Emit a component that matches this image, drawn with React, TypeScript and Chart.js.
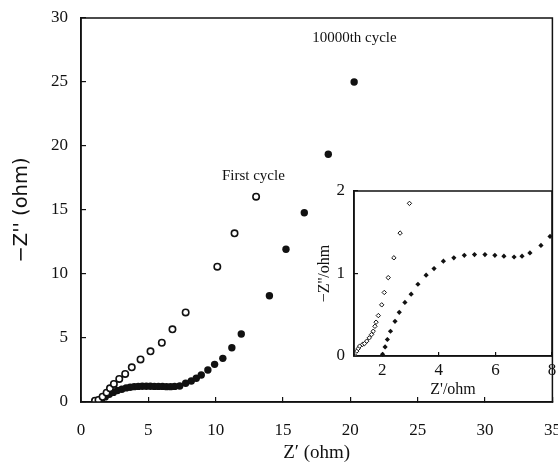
import React, { useEffect, useRef } from "react";
import { Chart, registerables } from "chart.js";

Chart.register(...registerables);

// ---- Main plot data (Nyquist) ----
const firstCycleX = [1.04, 1.3, 1.6, 1.9, 2.15, 2.44, 2.84, 3.28, 3.77, 4.42, 5.16, 6.0, 6.79, 7.77, 10.12, 11.4, 13.0];
const firstCycleY = [0.1, 0.16, 0.41, 0.73, 1.07, 1.41, 1.8, 2.19, 2.71, 3.33, 3.96, 4.63, 5.68, 7.0, 10.57, 13.18, 16.04];

const cycle10000X = [1.04, 1.3, 1.55, 1.8, 2.1, 2.4, 2.7, 3.03, 3.35, 3.65, 3.95, 4.25, 4.55, 4.85, 5.15, 5.45, 5.75, 6.05, 6.35, 6.65, 6.95, 7.33, 7.77, 8.19, 8.56, 8.93, 9.42, 9.92, 10.53, 11.2, 11.9, 13.99, 15.22, 16.58, 18.36, 20.28];
const cycle10000Y = [0.1, 0.15, 0.28, 0.4, 0.6, 0.75, 0.9, 1.0, 1.1, 1.15, 1.2, 1.22, 1.23, 1.23, 1.23, 1.22, 1.22, 1.22, 1.2, 1.2, 1.22, 1.25, 1.46, 1.64, 1.85, 2.11, 2.5, 2.94, 3.41, 4.24, 5.31, 8.3, 11.93, 14.79, 19.35, 25.0];

// ---- Inset data ----
const insetFirstX = [1.05, 1.1, 1.15, 1.2, 1.3, 1.37, 1.45, 1.54, 1.62, 1.68, 1.74, 1.78, 1.86, 1.98, 2.07, 2.21, 2.41, 2.63, 2.96];
const insetFirstY = [0.0, 0.06, 0.09, 0.12, 0.14, 0.15, 0.18, 0.22, 0.26, 0.3, 0.36, 0.41, 0.49, 0.62, 0.77, 0.95, 1.19, 1.49, 1.85];

const inset10000X = [2.01, 2.1, 2.18, 2.29, 2.45, 2.6, 2.8, 3.02, 3.26, 3.55, 3.83, 4.16, 4.53, 4.9, 5.26, 5.63, 5.98, 6.3, 6.66, 6.94, 7.22, 7.61, 7.93];
const inset10000Y = [0.02, 0.11, 0.2, 0.3, 0.42, 0.53, 0.65, 0.75, 0.87, 0.98, 1.06, 1.15, 1.19, 1.22, 1.23, 1.23, 1.22, 1.21, 1.2, 1.21, 1.25, 1.34, 1.45];

// ---- Axes / labels ----
const mainXTicks = [0, 5, 10, 15, 20, 25, 30, 35];
const mainYTicks = [0, 5, 10, 15, 20, 25, 30];
const insetXTicks = [2, 4, 6, 8];
const insetYTicks = [0, 1, 2];

const mainXTitle = "Z\u2032 (ohm)";
const mainYTitle = "\u2212Z'' (ohm)";
const insetXTitle = "Z'/ohm";
const insetYTitle = "\u2212Z''/ohm";

const annotationTexts = ["First cycle", "10000th cycle"];
const annotationX = [12.8, 20.3];
const annotationY = [17.66, 28.4];

const SERIF = "'Liberation Serif', 'Times New Roman', serif";
const SANS = "'DejaVu Sans', Verdana, sans-serif";

const toPoints = (xs: number[], ys: number[]) => xs.map((x, i) => ({ x, y: ys[i] }));

const framePlugin = {
  id: "frame",
  afterDraw(chart: any) {
    const { ctx, chartArea } = chart;
    const { left, top, right, bottom } = chartArea;
    ctx.save();
    ctx.strokeStyle = "#111";
    ctx.lineWidth = 1.5;
    ctx.strokeRect(left, top, right - left, bottom - top);
    ctx.restore();
  },
};

const annotationPlugin = {
  id: "annot",
  afterDatasetsDraw(chart: any) {
    const { ctx, scales } = chart;
    ctx.save();
    ctx.fillStyle = "#111";
    ctx.font = `15px ${SERIF}`;
    ctx.textAlign = "center";
    ctx.textBaseline = "middle";
    annotationTexts.forEach((t, i) => {
      ctx.fillText(t, scales.x.getPixelForValue(annotationX[i]), scales.y.getPixelForValue(annotationY[i]));
    });
    ctx.restore();
  },
};

function setTicks(values: number[]) {
  return (scale: any) => {
    scale.ticks = values.map((v) => ({ value: v }));
  };
}

function MainChart() {
  const ref = useRef<HTMLCanvasElement>(null);
  useEffect(() => {
    const chart = new Chart(ref.current as HTMLCanvasElement, {
      type: "scatter",
      data: {
        datasets: [
          {
            data: toPoints(firstCycleX, firstCycleY),
            pointStyle: "circle",
            pointRadius: 3.2,
            pointBorderWidth: 1.6,
            pointBackgroundColor: "#fff",
            pointBorderColor: "#111",
          },
          {
            data: toPoints(cycle10000X, cycle10000Y),
            pointStyle: "circle",
            pointRadius: 3.7,
            pointBorderWidth: 0,
            pointBackgroundColor: "#111",
            pointBorderColor: "#111",
          },
        ],
      },
      options: {
        responsive: false,
        animation: false,
        devicePixelRatio: 1,
        layout: { padding: { left: 0, right: 4, top: 18, bottom: 0 } },
        plugins: { legend: { display: false }, tooltip: { enabled: false } },
        scales: {
          x: {
            type: "linear",
            min: 0,
            max: 35,
            afterBuildTicks: setTicks(mainXTicks),
            ticks: { color: "#111", font: { family: SERIF, size: 17 }, padding: 23, maxRotation: 0 },
            grid: { drawOnChartArea: false, drawTicks: true, tickLength: -5, color: "#111", lineWidth: 1.2 },
            border: { display: true, color: "#111", width: 1.5 },
            title: { display: true, text: mainXTitle, color: "#111", font: { family: SERIF, size: 19 }, padding: { top: 0, bottom: 2 } },
            afterFit(s: any) {
              s.height = 64;
              s.paddingLeft = 0;
              s.paddingRight = 0;
            },
          },
          y: {
            type: "linear",
            min: 0,
            max: 30,
            afterBuildTicks: setTicks(mainYTicks),
            ticks: { color: "#111", font: { family: SERIF, size: 17 }, padding: 18 },
            grid: { drawOnChartArea: false, drawTicks: true, tickLength: -5, color: "#111", lineWidth: 1.2 },
            border: { display: true, color: "#111", width: 1.5 },
            title: { display: true, text: mainYTitle, color: "#111", font: { family: SANS, size: 19.5 }, padding: { top: 10, bottom: 0 } },
            afterFit(s: any) {
              s.width = 81;
              s.paddingTop = 0;
              s.paddingBottom = 0;
            },
          },
        },
      } as any,
      plugins: [framePlugin, annotationPlugin],
    });
    return () => chart.destroy();
  }, []);
  return <canvas ref={ref} width={558} height={466} style={{ position: "absolute", left: 0, top: 0 }} />;
}

function InsetChart() {
  const ref = useRef<HTMLCanvasElement>(null);
  useEffect(() => {
    const chart = new Chart(ref.current as HTMLCanvasElement, {
      type: "scatter",
      data: {
        datasets: [
          {
            data: toPoints(insetFirstX, insetFirstY),
            pointStyle: "rectRot",
            pointRadius: 2.2,
            pointBorderWidth: 1,
            pointBackgroundColor: "#fff",
            pointBorderColor: "#111",
          },
          {
            data: toPoints(inset10000X, inset10000Y),
            pointStyle: "rectRot",
            pointRadius: 2.6,
            pointBorderWidth: 0,
            pointBackgroundColor: "#111",
            pointBorderColor: "#111",
          },
        ],
      },
      options: {
        responsive: false,
        animation: false,
        devicePixelRatio: 1,
        layout: { padding: { left: 0, right: 6, top: 11, bottom: 0 } },
        plugins: { legend: { display: false }, tooltip: { enabled: false } },
        scales: {
          x: {
            type: "linear",
            min: 1,
            max: 8,
            afterBuildTicks: setTicks(insetXTicks),
            ticks: { color: "#111", font: { family: SERIF, size: 17 }, padding: 8, maxRotation: 0 },
            grid: { drawOnChartArea: false, drawTicks: true, tickLength: -4, color: "#111", lineWidth: 1.2 },
            border: { display: true, color: "#111", width: 1.5 },
            title: { display: true, text: insetXTitle, color: "#111", font: { family: SERIF, size: 16 }, padding: { top: 0, bottom: 3 } },
            afterFit(s: any) {
              s.height = 46;
              s.paddingLeft = 0;
              s.paddingRight = 0;
            },
          },
          y: {
            type: "linear",
            min: 0,
            max: 2,
            afterBuildTicks: setTicks(insetYTicks),
            ticks: { color: "#111", font: { family: SERIF, size: 17 }, padding: 13 },
            grid: { drawOnChartArea: false, drawTicks: true, tickLength: -4, color: "#111", lineWidth: 1.2 },
            border: { display: true, color: "#111", width: 1.5 },
            title: { display: true, text: insetYTitle, color: "#111", font: { family: SERIF, size: 16 }, padding: { top: 15, bottom: 0 } },
            afterFit(s: any) {
              s.width = 54;
              s.paddingTop = 0;
              s.paddingBottom = 0;
            },
          },
        },
      } as any,
      plugins: [framePlugin],
    });
    return () => chart.destroy();
  }, []);
  return <canvas ref={ref} width={258} height={222} style={{ position: "absolute", left: 300, top: 180 }} />;
}

export default function App() {
  return (
    <div style={{ position: "absolute", left: 0, top: 0, width: 558, height: 466, background: "#fff", overflow: "hidden" }}>
      <MainChart />
      <InsetChart />
    </div>
  );
}
